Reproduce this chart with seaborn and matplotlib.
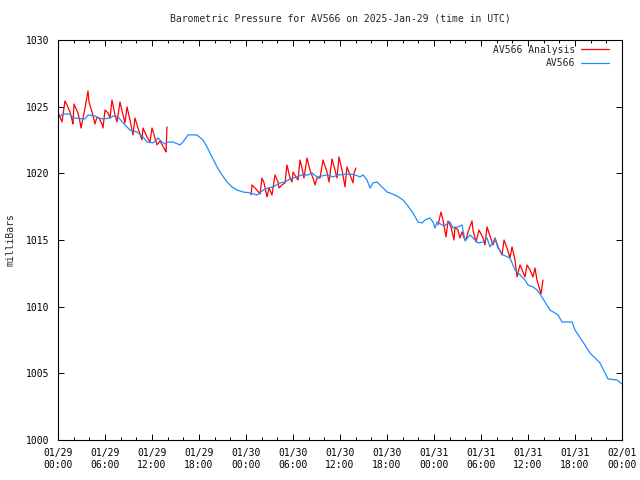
import numpy as np
import pandas as pd
import matplotlib
matplotlib.use('Agg')
import matplotlib.pyplot as plt
import seaborn as sns
from matplotlib.ticker import MultipleLocator

# ----------------------------
# Data (hours since 2025-01-29 00:00 UTC, pressure in mbar)
# ----------------------------

obs_hours = [0.00, 0.64, 1.53, 1.91, 3.45, 3.83, 4.72, 5.11, 5.74, 6.64, 7.02, 7.66,
             8.55, 9.19, 10.09, 10.85, 11.36, 12.13, 12.77, 13.28, 13.66, 14.04, 14.68,
             15.57, 15.96, 16.60, 17.74, 18.51, 19.02, 19.66, 20.30, 20.94, 21.57, 22.21,
             22.85, 23.62, 24.51, 25.40, 25.79, 26.17, 26.81, 27.45, 28.34, 28.98, 29.62,
             30.51, 31.15, 31.91, 32.43, 33.06, 34.34, 35.11, 35.74, 37.28, 37.91, 38.55,
             38.94, 39.45, 39.83, 40.21, 40.72, 41.36, 42.00, 42.38, 43.28, 44.04, 44.68,
             45.32, 45.96, 46.47, 46.85, 47.49, 47.87, 48.13, 48.38, 49.28, 50.04, 50.43,
             51.06, 51.57, 51.96, 52.60, 53.62, 54.26, 54.77, 55.15, 55.79, 56.17, 56.81,
             57.70, 58.34, 58.98, 59.62, 60.00, 60.64, 61.15, 61.53, 62.17, 62.81, 63.83,
             64.34, 65.62, 66.00, 67.02, 67.91, 69.19, 70.21, 71.36, 72.00]
obs_mbar = [1024.15, 1024.45, 1024.45, 1024.15, 1024.08, 1024.38, 1024.30, 1024.15, 1024.08,
            1024.15, 1024.30, 1024.23, 1023.63, 1023.25, 1023.10, 1022.73, 1022.35, 1022.28,
            1022.65, 1022.35, 1022.20, 1022.35, 1022.35, 1022.13, 1022.35, 1022.88, 1022.88,
            1022.50, 1021.98, 1021.23, 1020.48, 1019.88, 1019.35, 1018.98, 1018.75, 1018.60,
            1018.53, 1018.38, 1018.53, 1018.75, 1018.90, 1018.98, 1019.28, 1019.35, 1019.58,
            1019.73, 1019.88, 1019.88, 1020.03, 1019.73, 1019.88, 1019.73, 1019.88, 1019.95,
            1019.88, 1019.73, 1019.88, 1019.50, 1018.90, 1019.28, 1019.35, 1018.98, 1018.60,
            1018.53, 1018.30, 1018.00, 1017.55, 1017.03, 1016.35, 1016.28, 1016.50, 1016.65,
            1016.35, 1015.90, 1016.35, 1016.05, 1016.35, 1015.90, 1015.98, 1016.13, 1014.93,
            1015.38, 1014.78, 1014.85, 1015.15, 1014.48, 1015.08, 1014.40, 1013.88, 1013.65,
            1012.75, 1012.38, 1012.00, 1011.63, 1011.48, 1011.25, 1010.95, 1010.35, 1009.75,
            1009.38, 1008.85, 1008.85, 1008.25, 1007.35, 1006.53, 1005.78, 1004.58, 1004.50,
            1004.20]

# analysis runs (three windows)
ana1_hours = [0.00, 0.51, 0.89, 1.15, 1.53, 1.79, 1.91, 2.04, 2.55, 2.81, 2.94, 3.45, 3.83,
              3.96, 4.34, 4.60, 4.72, 4.98, 5.23, 5.62, 5.74, 6.00, 6.38, 6.64, 6.89, 7.28,
              7.53, 7.91, 8.30, 8.55, 8.81, 9.19, 9.57, 9.83, 10.21, 10.72, 10.85, 11.36,
              11.74, 12.00, 12.38, 12.64, 13.02, 13.66, 13.79, 13.91]
ana1_mbar = [1024.60, 1023.85, 1025.43, 1025.13, 1024.60, 1024.00, 1023.70, 1025.20, 1024.53,
             1023.85, 1023.40, 1024.90, 1026.18, 1025.35, 1024.60, 1024.00, 1023.70, 1024.23,
             1024.15, 1023.70, 1023.40, 1024.75, 1024.53, 1024.15, 1025.50, 1024.38, 1023.85,
             1025.35, 1024.38, 1023.78, 1024.98, 1024.00, 1022.88, 1024.15, 1023.40, 1022.50,
             1023.40, 1022.73, 1022.35, 1023.40, 1022.65, 1022.13, 1022.43, 1021.75, 1021.60,
             1023.48]

ana2_hours = [24.64, 24.77, 25.40, 25.79, 26.04, 26.30, 26.68, 26.94, 27.32, 27.70, 28.09,
              28.21, 28.60, 28.98, 29.23, 29.62, 29.87, 30.00, 30.38, 30.64, 30.89, 31.15,
              31.40, 31.79, 32.17, 32.55, 32.81, 33.06, 33.45, 33.83, 34.34, 34.60, 34.98,
              35.36, 35.62, 35.87, 36.26, 36.64, 36.89, 37.28, 37.66, 37.79, 38.04]
ana2_mbar = [1018.38, 1019.13, 1018.75, 1018.45, 1019.65, 1019.28, 1018.23, 1018.90, 1018.38,
             1019.88, 1019.35, 1018.90, 1019.13, 1019.28, 1020.63, 1019.65, 1019.35, 1020.10,
             1019.73, 1019.50, 1021.00, 1020.40, 1019.65, 1021.15, 1020.25, 1019.65, 1019.13,
             1019.65, 1019.65, 1021.00, 1020.10, 1019.35, 1021.08, 1020.25, 1019.65, 1021.23,
             1020.25, 1018.98, 1020.48, 1019.88, 1019.28, 1020.03, 1020.40]

ana3_hours = [48.51, 48.89, 49.15, 49.53, 49.79, 50.17, 50.55, 50.68, 51.06, 51.32, 51.57,
              51.83, 52.09, 52.34, 52.85, 52.98, 53.36, 53.74, 54.26, 54.51, 54.77, 55.02,
              55.53, 55.79, 56.17, 56.68, 56.94, 57.32, 57.70, 57.96, 58.34, 58.60, 58.98,
              59.36, 59.62, 59.87, 60.26, 60.64, 60.89, 61.15, 61.66, 61.91]
ana3_mbar = [1016.13, 1017.10, 1016.50, 1015.23, 1016.43, 1015.98, 1015.00, 1015.98, 1015.75,
             1015.15, 1015.60, 1015.15, 1015.00, 1015.60, 1016.43, 1015.75, 1014.85, 1015.75,
             1015.15, 1014.63, 1015.98, 1015.53, 1014.63, 1015.15, 1014.48, 1013.88, 1015.00,
             1014.40, 1013.65, 1014.48, 1013.50, 1012.23, 1013.13, 1012.60, 1012.23, 1013.13,
             1012.75, 1012.23, 1012.90, 1012.00, 1010.95, 1012.00]

tick_hours = list(range(0, 73, 6))
tick_labels = ['01/29\n00:00', '01/29\n06:00', '01/29\n12:00', '01/29\n18:00',
               '01/30\n00:00', '01/30\n06:00', '01/30\n12:00', '01/30\n18:00',
               '01/31\n00:00', '01/31\n06:00', '01/31\n12:00', '01/31\n18:00',
               '02/01\n00:00']

# ----------------------------
# Plot
# ----------------------------

sns.set_style('ticks')
plt.rcParams['font.family'] = ['DejaVu Sans Mono']
plt.rcParams['font.size'] = 7

fig = plt.figure(figsize=(6.4, 4.8), dpi=100)
ax = fig.add_axes([58 / 640, 40 / 480, 564 / 640, 400 / 480])

red = '#ff0000'
blue = '#1e8cff'

for i, (h, m) in enumerate([(ana1_hours, ana1_mbar), (ana2_hours, ana2_mbar),
                            (ana3_hours, ana3_mbar)]):
    seg = pd.DataFrame({'hours': h, 'mbar': m})
    sns.lineplot(data=seg, x='hours', y='mbar', ax=ax, color=red, linewidth=0.9,
                 estimator=None, sort=False,
                 label='AV566 Analysis' if i == 0 else None)

obs = pd.DataFrame({'hours': obs_hours, 'mbar': obs_mbar})
sns.lineplot(data=obs, x='hours', y='mbar', ax=ax, color=blue, linewidth=0.9,
             estimator=None, sort=False, label='AV566')

ax.set_xlim(0, 72)
ax.set_ylim(1000, 1030)
ax.set_xticks(tick_hours)
ax.set_xticklabels(tick_labels)
ax.xaxis.set_minor_locator(MultipleLocator(2))
ax.set_yticks(range(1000, 1031, 5))

ax.tick_params(which='both', direction='in', top=True, right=True, colors='black',
               labelsize=7, width=0.7)
ax.tick_params(which='major', length=4, pad=6)
ax.tick_params(which='minor', length=2)
for s in ax.spines.values():
    s.set_linewidth(0.8)
    s.set_color('black')

ax.set_xlabel('')
ax.set_ylabel('milliBars', fontsize=7, labelpad=8)
# title centred over the plot area, like gnuplot does
ax.set_title('Barometric Pressure for AV566 on 2025-Jan-29 (time in UTC)',
             fontsize=7, pad=13)

ax.legend(loc='upper right', bbox_to_anchor=(1 - 6 / 564, 1 + 2 / 400),
          frameon=False, markerfirst=False, fontsize=7,
          handlelength=2.9, handletextpad=0.6, labelspacing=0.35,
          borderaxespad=0.3)

plt.savefig('out.png', dpi=100)
